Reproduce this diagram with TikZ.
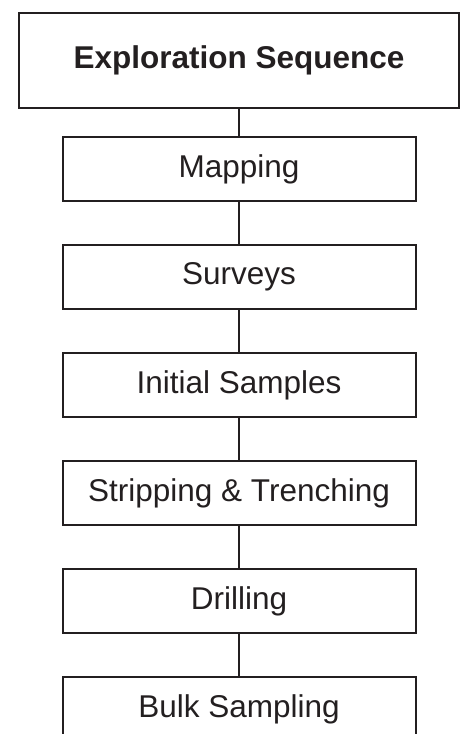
\documentclass[tikz,border=0pt]{standalone}
\usepackage{fontspec}
\setmainfont{Liberation Sans}
\definecolor{ink}{HTML}{231F20}
\begin{document}
\begin{tikzpicture}[x=1pt,y=-1pt,
  box/.style={draw=ink,line width=2pt,text=ink,minimum width=353pt,minimum height=64pt,inner sep=0pt,font=\fontsize{31.5}{36}\selectfont},
  headbox/.style={draw=ink,line width=2pt,text=ink,minimum width=440pt,minimum height=95pt,inner sep=0pt,font=\fontsize{31.5}{36}\selectfont\bfseries},
  link/.style={draw=ink,line width=2pt}]
\clip (0,0) rectangle (466,734);
\useasboundingbox (0,0) rectangle (466,734);
\node[headbox] (h) at (239,60.5) {Exploration Sequence};
\node[box] (m) at (239,169) {Mapping};
\node[box] (s) at (239,277) {Surveys};
\node[box] (i) at (239,385) {Initial Samples};
\node[box] (t) at (239,493) {Stripping \& Trenching};
\node[box] (d) at (239,601) {Drilling};
\node[box] (b) at (239,709) {Bulk Sampling};
\draw[link] (h) -- (m);
\draw[link] (m) -- (s);
\draw[link] (s) -- (i);
\draw[link] (i) -- (t);
\draw[link] (t) -- (d);
\draw[link] (d) -- (b);
\end{tikzpicture}
\end{document}
